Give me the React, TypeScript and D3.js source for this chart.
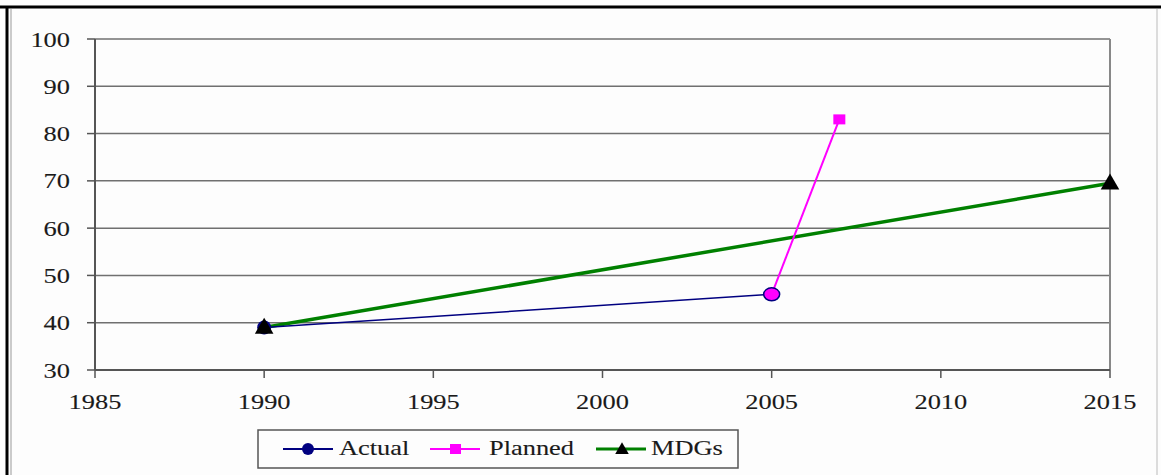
import React from "react";
import * as d3 from "d3";

const yTicks = [30, 40, 50, 60, 70, 80, 90, 100];
const xTicks = [1985, 1990, 1995, 2000, 2005, 2010, 2015];
const actualYears = [1990, 2005];
const actualValues = [39, 46];
const plannedYears = [2005, 2007];
const plannedValues = [46, 83];
const mdgYears = [1990, 2015];
const mdgValues = [39, 69.5];
const legendLabels = ["Actual", "Planned", "MDGs"];

const W = 1161;
const H = 475;
const FONT = "'Liberation Serif', 'Times New Roman', serif";
const SX = 1.2;

function T({ x, y, anchor, children }: { x: number; y: number; anchor?: string; children: any }) {
  return (
    <text
      transform={`translate(${x},${y}) scale(${SX},1)`}
      textAnchor={anchor || "start"}
      fontFamily={FONT}
      fontSize={22}
      fill="#1a1a1a"
      stroke="#1a1a1a"
      strokeWidth={0.12}
    >
      {children}
    </text>
  );
}

export default function App() {
  const x = d3.scaleLinear().domain([1985, 2015]).range([95, 1110]);
  const y = d3.scaleLinear().domain([30, 100]).range([370, 39]);
  const line = d3
    .line<[number, number]>()
    .x((d) => x(d[0]))
    .y((d) => y(d[1]));
  const actual = actualYears.map((v, i) => [v, actualValues[i]] as [number, number]);
  const planned = plannedYears.map((v, i) => [v, plannedValues[i]] as [number, number]);
  const mdg = mdgYears.map((v, i) => [v, mdgValues[i]] as [number, number]);
  const tri = d3.symbol().type(d3.symbolTriangle).size(150)();

  const legendX = 258;
  const legendY = 430;
  const items = [
    { lx: 283, tx: 339, color: "#000080", kind: "circle" },
    { lx: 430, tx: 489, color: "#ff00ff", kind: "square" },
    { lx: 596, tx: 651, color: "#008000", kind: "tri" },
  ];

  return (
    <svg
      width={W}
      height={H}
      style={{ position: "absolute", left: 0, top: 0, background: "#fdfdfd" }}
    >
      {/* frame */}
      <line x1={0} x2={W} y1={7} y2={7} stroke="#000" strokeWidth={3} />
      <line x1={7} x2={7} y1={6} y2={H} stroke="#000" strokeWidth={3} />
      <line x1={11} x2={11} y1={9} y2={H} stroke="#999" strokeWidth={1} />
      <line x1={1157} x2={1157} y1={9} y2={H} stroke="#bbb" strokeWidth={1} />

      {/* gridlines */}
      {yTicks.map((t) => (
        <line key={"g" + t} x1={x(1985)} x2={x(2015)} y1={y(t)} y2={y(t)} stroke="#707070" strokeWidth={1.5} />
      ))}
      {/* axes */}
      <line x1={x(1985)} x2={x(1985)} y1={y(100)} y2={y(30)} stroke="#555" strokeWidth={2} />
      <line x1={x(2015)} x2={x(2015)} y1={y(100)} y2={y(30)} stroke="#888" strokeWidth={2} />
      <line x1={x(1985)} x2={x(2015)} y1={y(30)} y2={y(30)} stroke="#555" strokeWidth={2} />
      {yTicks.map((t) => (
        <g key={"y" + t}>
          <line x1={x(1985) - 8} x2={x(1985)} y1={y(t)} y2={y(t)} stroke="#555" strokeWidth={1.5} />
          <T x={70} y={y(t) + 7.5} anchor="end">
            {t}
          </T>
        </g>
      ))}
      {xTicks.map((t) => (
        <g key={"x" + t}>
          <line x1={x(t)} x2={x(t)} y1={y(30)} y2={y(30) + 8} stroke="#555" strokeWidth={1.5} />
          <T x={x(t)} y={409} anchor="middle">
            {t}
          </T>
        </g>
      ))}

      {/* series */}
      <path d={line(mdg) || ""} fill="none" stroke="#008000" strokeWidth={3.5} />
      <path d={line(actual) || ""} fill="none" stroke="#000080" strokeWidth={1.5} />
      <path d={line(planned) || ""} fill="none" stroke="#ff00ff" strokeWidth={2} />

      {/* markers */}
      <rect x={x(plannedYears[1]) - 6} y={y(plannedValues[1]) - 5} width={12} height={10} fill="#ff00ff" />
      <circle cx={x(actualYears[0])} cy={y(actualValues[0])} r={7} fill="#000080" />
      <ellipse cx={x(actualYears[1])} cy={y(actualValues[1])} rx={8} ry={6.5} fill="#ff00ff" stroke="#000080" strokeWidth={1.5} />
      {mdg.map((d, i) => (
        <path key={"t" + i} d={tri || ""} transform={`translate(${x(d[0])},${y(d[1]) + 1})`} fill="#000" />
      ))}

      {/* legend */}
      <rect x={legendX} y={legendY} width={480} height={38} fill="#fdfdfd" stroke="#555" strokeWidth={1.5} />
      {items.map((it, i) => (
        <g key={"l" + i}>
          <line x1={it.lx} x2={it.lx + 50} y1={449} y2={449} stroke={it.color} strokeWidth={it.kind === "tri" ? 3 : 2} />
          {it.kind === "circle" && <circle cx={it.lx + 25} cy={449} r={6} fill="#000080" />}
          {it.kind === "square" && <rect x={it.lx + 20} y={444} width={11} height={10} fill="#ff00ff" />}
          {it.kind === "tri" && (
            <path d={d3.symbol().type(d3.symbolTriangle).size(80)() || ""} transform={`translate(${it.lx + 26},${450})`} fill="#000" />
          )}
          <T x={it.tx} y={455}>
            {legendLabels[i]}
          </T>
        </g>
      ))}
    </svg>
  );
}
